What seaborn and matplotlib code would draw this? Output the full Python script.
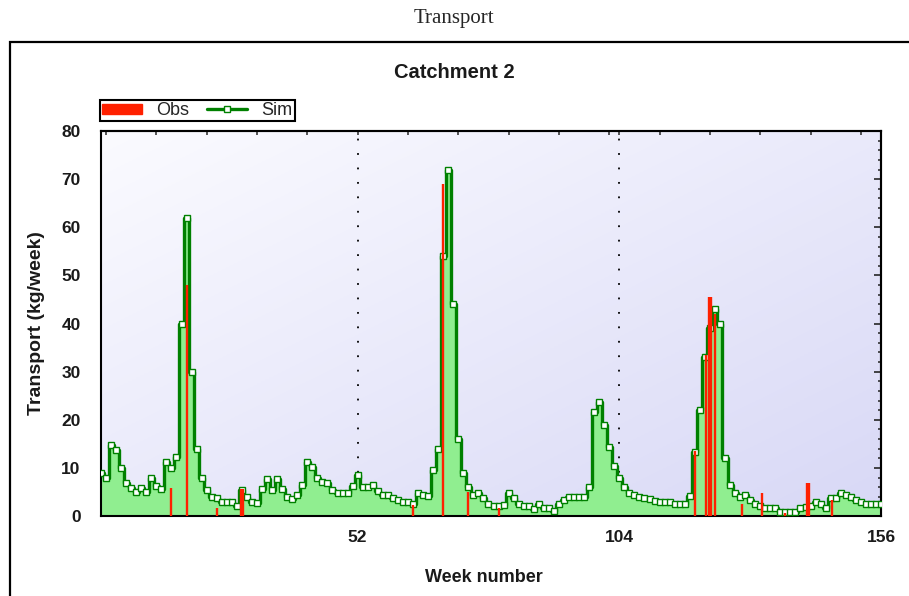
import numpy as np
import matplotlib
matplotlib.use("Agg")
import matplotlib.pyplot as plt
import seaborn as sns
from matplotlib.patches import Rectangle, Patch
from matplotlib.lines import Line2D
from matplotlib.ticker import FixedLocator, MultipleLocator

# Données
weeks = np.arange(1, 157)
sim = [9, 8, 14.8, 13.7, 10, 6.9, 5.8, 5.0, 5.8, 5.0,
       7.9, 6.2, 5.6, 11.2, 10, 12.3, 40, 62, 30, 14,
       8, 5.4, 4.0, 3.7, 3.0, 3.0, 3.0, 2.1, 5.4, 4.0,
       3.0, 2.8, 5.7, 7.6, 5.4, 7.6, 5.7, 4.0, 3.5, 4.4,
       6.5, 11.3, 10.1, 7.8, 7.1, 6.8, 5.4, 4.7, 4.7, 4.7,
       6.3, 8.5, 6.0, 6.1, 6.5, 5.1, 4.4, 4.4, 3.7, 3.4,
       3.0, 3.0, 2.5, 4.7, 4.4, 4.2, 9.6, 14, 54, 72,
       44, 16, 8.9, 6.1, 4.4, 4.7, 3.7, 2.6, 2.1, 2.1,
       2.3, 4.7, 3.7, 2.6, 2.1, 2.0, 1.4, 2.6, 1.6, 1.6,
       1.0, 2.5, 3.3, 3.9, 4.0, 4.0, 3.9, 6.1, 21.7, 23.6,
       19, 14.4, 10.3, 7.9, 6.1, 4.7, 4.4, 3.9, 3.7, 3.5,
       3.2, 3.0, 3.0, 3.0, 2.6, 2.6, 2.6, 4.2, 13.4, 22,
       33, 39, 43, 40, 12, 6.5, 4.7, 4.0, 4.4, 3.4,
       2.5, 2.0, 1.6, 1.6, 1.6, 0.9, 0.9, 0.9, 0.9, 1.6,
       1.8, 2.0, 3.0, 2.5, 1.6, 3.7, 3.7, 4.7, 4.4, 4.0,
       3.4, 3.0, 2.6, 2.6, 2.6, 2.6]
obs_weeks = [15, 18, 24, 28.8, 29.2, 63, 69, 74, 80, 119.1, 121.2, 121.9,
             122.3, 123.0, 128.4, 132.3, 137, 141.2, 141.6, 146.3]
obs_values = [5.8, 48, 1.6, 5.6, 5.6, 2.3, 69, 5.0, 1.6, 13.5, 33.5, 45.6,
              45.6, 42, 2.6, 4.7, 0.7, 6.8, 6.8, 3.3]

sns.set_style("white")
plt.rcParams['font.family'] = ['Liberation Sans', 'DejaVu Sans']

fig = plt.figure(figsize=(9.09, 5.96), dpi=100)
ax = fig.add_axes([0.1111, 0.1342, 0.8581, 0.6460])

# Fond dégradé
gx, gy = np.meshgrid(np.linspace(0, 1, 200), np.linspace(0, 1, 200))
t = (gx + gy) / 2
c0 = np.array([251, 251, 255]) / 255
c1 = np.array([216, 216, 246]) / 255
grad = c0[None, None, :] * (1 - t[..., None]) + c1[None, None, :] * t[..., None]
ax.imshow(grad, extent=[1, 156, 0, 80], aspect='auto', origin='upper', zorder=0)

for xv in [52, 104]:
    ax.axvline(xv, color='black', ls=(0, (1, 7)), lw=1.3, zorder=0.5)

ax.fill_between(weeks, sim, step='mid', color='#90ee90', lw=0, zorder=1)
sns.lineplot(x=weeks, y=sim, drawstyle='steps-mid', color='#008000', lw=2.4,
             marker='s', ms=3.8, mfc='white', mec='#008000', mew=1.0,
             ax=ax, zorder=3, legend=False)
ax.vlines(obs_weeks, 0, obs_values, color='#ff2000', lw=1.7, zorder=4,
          capstyle='butt')

ax.set_xlim(1, 156)
ax.set_ylim(0, 80)
ax.set_xlabel('')
ax.set_ylabel('')

ax.xaxis.set_major_locator(FixedLocator([52, 104, 156]))
ax.xaxis.set_minor_locator(FixedLocator(np.arange(2, 156, 10)))
ax.yaxis.set_major_locator(MultipleLocator(10))
ax.yaxis.set_minor_locator(MultipleLocator(2))

ax.tick_params(axis='x', which='major', direction='inout', length=9.5, width=1.3,
               pad=5, labelsize=12.5)
ax.tick_params(axis='x', which='minor', direction='out', length=3.5, width=1.1)
ax.tick_params(axis='y', which='major', direction='inout', length=11.5, width=1.3,
               pad=9, labelsize=12.5)
ax.tick_params(axis='y', which='minor', direction='inout', length=8, width=1.1)
for lab in ax.get_xticklabels() + ax.get_yticklabels():
    lab.set_fontweight('bold')
    lab.set_color('#1a1a1a')

for sp in ax.spines.values():
    sp.set_color('black')
    sp.set_linewidth(1.5)

top = ax.secondary_xaxis('top')
top.xaxis.set_major_locator(FixedLocator([52, 104, 156]))
top.xaxis.set_minor_locator(FixedLocator(np.arange(2, 156, 10)))
top.tick_params(which='both', direction='in', length=3, width=1.1, labeltop=False)
right = ax.secondary_yaxis('right')
right.yaxis.set_major_locator(MultipleLocator(10))
right.yaxis.set_minor_locator(MultipleLocator(2))
right.tick_params(which='major', direction='in', length=5, width=1.2, labelright=False)
right.tick_params(which='minor', direction='in', length=2.5, width=1.1)
for s in (top, right):
    for sp in s.spines.values():
        sp.set_linewidth(1.5)

# Textes
fig.text(454 / 909, 1 - 18 / 596, 'Transport', ha='center', va='center',
         fontsize=15, family=['Liberation Serif', 'DejaVu Serif'])
fig.text(454 / 909, 1 - 73 / 596, 'Catchment 2', ha='center', va='center',
         fontsize=14.5, fontweight='bold', color='#1a1a1a')
fig.text(484 / 909, 1 - 578 / 596, 'Week number', ha='center', va='center',
         fontsize=13, fontweight='bold', color='#1a1a1a')
fig.text(37 / 909, 1 - 323 / 596, 'Transport (kg/week)', ha='center', va='center',
         rotation=90, fontsize=14, fontweight='bold', color='#1a1a1a')

# Cadre extérieur
fig.add_artist(Rectangle((10 / 909, -0.5), 2, 0.5 + 1 - 42 / 596, fill=False,
                         ec='black', lw=1.6, transform=fig.transFigure, clip_on=False))

handles = [Patch(color='#ff2000'),
           Line2D([0], [0], color='#008000', lw=2.4, marker='s', ms=3.8,
                  mfc='white', mec='#008000', mew=1.0)]
leg = fig.legend(handles, ['Obs', 'Sim'], loc='upper left',
                 bbox_to_anchor=(100 / 909, 1 - 100 / 596), ncol=2, fontsize=13,
                 frameon=True, fancybox=False, edgecolor='black', framealpha=1,
                 borderpad=0.12, handlelength=2.2, handleheight=0.5,
                 handletextpad=0.8, columnspacing=1.0, borderaxespad=0)
leg.get_frame().set_linewidth(1.5)

fig.savefig('out.png', dpi=100)
